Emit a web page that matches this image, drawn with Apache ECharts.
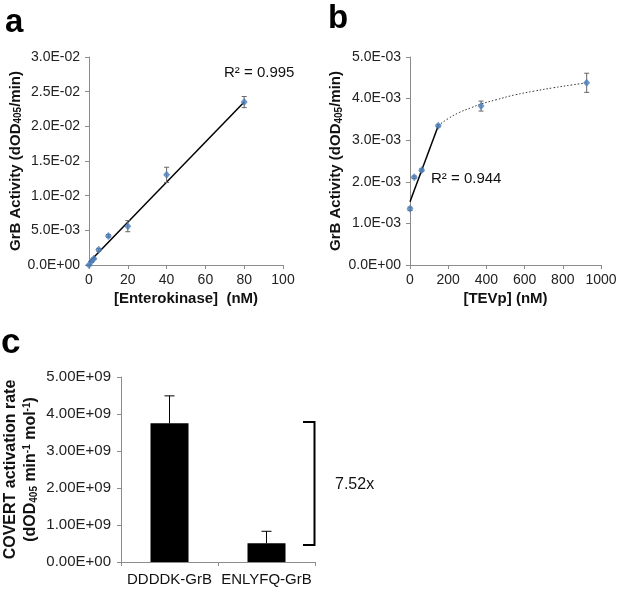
<!DOCTYPE html>
<html>
<head>
<meta charset="utf-8">
<script src="https://cdn.jsdelivr.net/npm/echarts@6/dist/echarts.min.js"></script>
<style>html,body{margin:0;padding:0;background:#fff;}#c{width:624px;height:593px;}</style>
</head>
<body>
<div id="c"></div>
<script>
// ---- Panel a: Enterokinase ----
const aConc = [0, 1.25, 2.5, 5, 10, 20, 40, 80];
const aAct  = [0.0000, 0.0005, 0.0009, 0.0022, 0.0042, 0.0056, 0.0130, 0.0235];
const aErr  = [0.0001, 0.0001, 0.0001, 0.0002, 0.0002, 0.0008, 0.0011, 0.0008];
const aFitX = [0, 80];
const aFitY = [0.0004, 0.0235];
const aXTicks = [0, 20, 40, 60, 80, 100];
const aYTicks = [0, 0.005, 0.01, 0.015, 0.02, 0.025, 0.03];

// ---- Panel b: TEVp ----
const bConc = [0, 22, 61, 148, 372, 925];
const bAct  = [0.00135, 0.00211, 0.00228, 0.00335, 0.00382, 0.00438];
const bErr  = [0.00004, 0.00003, 0.00003, 0.00003, 0.00012, 0.00023];
const bFitX = [0, 148];
const bFitY = [0.00152, 0.00335];
const bCurveX = [148, 200, 260, 320, 372, 450, 550, 650, 750, 850, 925];
const bCurveY = [0.00335, 0.00352, 0.00367, 0.00378, 0.00387, 0.00397, 0.00409, 0.00418, 0.00426, 0.00433, 0.00438];
const bXTicks = [0, 200, 400, 600, 800, 1000];
const bYTicks = [0, 0.001, 0.002, 0.003, 0.004, 0.005];

// ---- Panel c: COVERT activation rate ----
const cCats = ['DDDDK-GrB', 'ENLYFQ-GrB'];
const cRate = [3.75e9, 0.51e9];
const cErr  = [0.74e9, 0.32e9];
const cYTicks = [0, 1e9, 2e9, 3e9, 4e9, 5e9];

const FONT = '"Liberation Sans", Arial, sans-serif';
const AXC = '#8c8c8c';
const BLUE = '#4a7ebb';

function sci(digits) {
  return function (v) {
    if (Math.abs(v) < 1e-15) return (0).toFixed(digits) + 'E+00';
    const s = v.toExponential(digits).split('e');
    const e = parseInt(s[1], 10);
    return s[0] + 'E' + (e < 0 ? '-' : '+') + String(Math.abs(e)).padStart(2, '0');
  };
}
const plain = v => String(Math.round(v));
const zip = (xs, ys) => xs.map((x, i) => [x, ys[i]]);
const zip3 = (xs, ys, es) => xs.map((x, i) => [x, ys[i], es[i]]);

function errRender(cap, both, color) {
  return function (params, api) {
    const x = api.value(0), y = api.value(1), e = api.value(2);
    const top = api.coord([x, y + e]);
    const bot = both ? api.coord([x, y - e]) : api.coord([x, y]);
    const st = { stroke: color, lineWidth: 1 };
    const ch = [
      { type: 'line', shape: { x1: top[0], y1: top[1], x2: bot[0], y2: bot[1] }, style: st },
      { type: 'line', shape: { x1: top[0] - cap, y1: top[1], x2: top[0] + cap, y2: top[1] }, style: st }
    ];
    if (both) ch.push({ type: 'line', shape: { x1: bot[0] - cap, y1: bot[1], x2: bot[0] + cap, y2: bot[1] }, style: st });
    return { type: 'group', children: ch };
  };
}

function valAxis(extra) {
  return Object.assign({
    type: 'value',
    axisLine: { show: true, lineStyle: { color: AXC, width: 1 } },
    axisTick: { show: true, length: 4, inside: false, lineStyle: { color: AXC } },
    splitLine: { show: false },
    nameLocation: 'middle',
    nameTextStyle: { color: '#111', fontFamily: FONT, fontSize: 15, fontWeight: 'bold' }
  }, extra);
}

const yRich = {
  a: { fontFamily: FONT, fontSize: 15, fontWeight: 'bold', color: '#111' },
  s: { fontFamily: FONT, fontSize: 10, fontWeight: 'bold', color: '#111', padding: [6, 0, 0, 0] }
};

const chart = echarts.init(document.getElementById('c'), null, { renderer: 'canvas' });
chart.setOption({
  animation: false,
  backgroundColor: '#fff',
  grid: [
    { left: 89, top: 57, width: 194, height: 208 },
    { left: 410, top: 57, width: 191, height: 208 },
    { left: 119, top: 377, width: 196, height: 185 }
  ],
  xAxis: [
    valAxis({ gridIndex: 0, min: 0, max: 100, interval: 20, name: '[Enterokinase]  (nM)', nameGap: 26,
      axisLabel: { color: '#222', fontFamily: FONT, fontSize: 14, margin: 8, formatter: plain } }),
    valAxis({ gridIndex: 1, min: 0, max: 1000, interval: 200, name: '[TEVp] (nM)', nameGap: 26,
      axisLabel: { color: '#222', fontFamily: FONT, fontSize: 14, margin: 8, formatter: plain } }),
    { type: 'category', gridIndex: 2, data: cCats,
      axisLine: { show: true, lineStyle: { color: AXC } },
      axisTick: { show: true, length: 4, lineStyle: { color: AXC } },
      axisLabel: { color: '#111', fontFamily: FONT, fontSize: 15, margin: 10, interval: 0, hideOverlap: false } }
  ],
  yAxis: [
    valAxis({ gridIndex: 0, min: 0, max: 0.03, interval: 0.005,
      axisLabel: { color: '#222', fontFamily: FONT, fontSize: 14, margin: 9, formatter: sci(1) },
      name: '{a|GrB Activity (dOD}{s|405}{a|/min)}', nameGap: 63,
      nameTextStyle: { rich: yRich } }),
    valAxis({ gridIndex: 1, min: 0, max: 0.005, interval: 0.001,
      axisLabel: { color: '#222', fontFamily: FONT, fontSize: 14, margin: 9, formatter: sci(1) },
      name: '{a|GrB Activity (dOD}{s|405}{a|/min)}', nameGap: 66,
      nameTextStyle: { rich: yRich } }),
    valAxis({ gridIndex: 2, min: 0, max: 5e9, interval: 1e9,
      axisLabel: { color: '#222', fontFamily: FONT, fontSize: 15, margin: 10, formatter: sci(2) },
      name: '{a|COVERT activation rate}\n{a|(dOD}{s|405}{a| min}{p|-1}{a| mol}{p|-1}{a|)}', nameGap: 80,
      nameTextStyle: { lineHeight: 20, rich: {
        a: { fontFamily: FONT, fontSize: 16, fontWeight: 'bold', color: '#111', lineHeight: 20 },
        s: { fontFamily: FONT, fontSize: 10, fontWeight: 'bold', color: '#111', padding: [7, 0, 0, 0] },
        p: { fontFamily: FONT, fontSize: 10, fontWeight: 'bold', color: '#111', padding: [0, 0, 7, 0] }
      } } })
  ],
  series: [
    // panel a
    { type: 'line', xAxisIndex: 0, yAxisIndex: 0, data: zip(aFitX, aFitY), showSymbol: false,
      lineStyle: { color: '#000', width: 1.5 }, z: 3 },
    { type: 'custom', xAxisIndex: 0, yAxisIndex: 0, data: zip3(aConc, aAct, aErr),
      renderItem: errRender(2.5, true, '#666'), z: 4 },
    { type: 'scatter', xAxisIndex: 0, yAxisIndex: 0, data: zip(aConc, aAct), symbol: 'diamond',
      symbolSize: [7, 8], itemStyle: { color: BLUE }, z: 5 },
    // panel b
    { type: 'line', xAxisIndex: 1, yAxisIndex: 1, data: zip(bFitX, bFitY), showSymbol: false,
      lineStyle: { color: '#000', width: 1.5 }, z: 3 },
    { type: 'line', xAxisIndex: 1, yAxisIndex: 1, data: zip(bCurveX, bCurveY), showSymbol: false, smooth: true,
      lineStyle: { color: '#333', width: 1, type: [1.5, 2] }, z: 3 },
    { type: 'custom', xAxisIndex: 1, yAxisIndex: 1, data: zip3(bConc, bAct, bErr),
      renderItem: errRender(2.5, true, '#666'), z: 4 },
    { type: 'scatter', xAxisIndex: 1, yAxisIndex: 1, data: zip(bConc, bAct), symbol: 'diamond',
      symbolSize: [7, 8], itemStyle: { color: BLUE }, z: 5 },
    // panel c
    { type: 'bar', xAxisIndex: 2, yAxisIndex: 2, data: cRate, barWidth: 38,
      itemStyle: { color: '#000' }, z: 3 },
    { type: 'custom', xAxisIndex: 2, yAxisIndex: 2, data: cRate.map((v, i) => [i, v, cErr[i]]),
      renderItem: errRender(5, false, '#000'), z: 4 }
  ],
  graphic: [
    { type: 'text', left: 5, top: 6, style: { text: 'a', fontFamily: FONT, fontSize: 33, fontWeight: 'bold', fill: '#000' } },
    { type: 'text', left: 328, top: 2, style: { text: 'b', fontFamily: FONT, fontSize: 33, fontWeight: 'bold', fill: '#000' } },
    { type: 'text', left: 1, top: 326, style: { text: 'c', fontFamily: FONT, fontSize: 35, fontWeight: 'bold', fill: '#000' } },
    { type: 'text', left: 224, top: 65, style: { text: 'R² = 0.995', fontFamily: FONT, fontSize: 15, fill: '#111' } },
    { type: 'text', left: 431, top: 171, style: { text: 'R² = 0.944', fontFamily: FONT, fontSize: 15, fill: '#111' } },
    { type: 'polyline', shape: { points: [[303, 422], [314.5, 422], [314.5, 545], [303, 545]] },
      style: { stroke: '#000', lineWidth: 2, fill: null } },
    { type: 'text', left: 335, top: 477, style: { text: '7.52x', fontFamily: FONT, fontSize: 16, fill: '#111' } }
  ]
});
</script>
</body>
</html>
